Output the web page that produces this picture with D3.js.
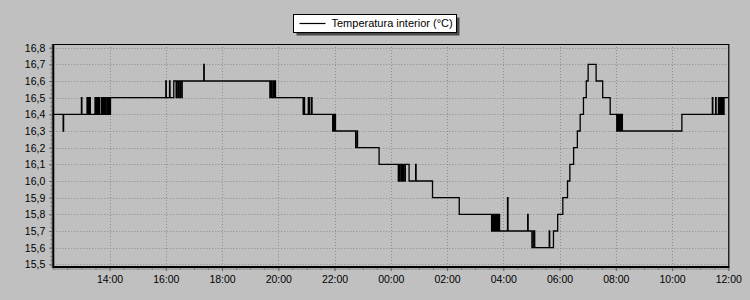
<!DOCTYPE html>
<html>
<head>
<meta charset="utf-8">
<script src="https://cdn.jsdelivr.net/npm/d3@7"></script>
<style>
  body { margin: 0; background: #c0c0c0; }
  svg { display: block; font-family: Arial, "Liberation Sans", sans-serif; }
</style>
</head>
<body>
<div id="chart"></div>
<script>
// minutes after 12:00 of the first day, temperature from that moment on
const minutes = [
  0, 21, 22,
  60, 61, 72, 73, 75, 76, 78, 79, 89, 90, 92, 93, 95, 96, 98, 99,
  103, 104, 106, 107, 109, 110, 112, 113, 116, 117, 119, 120, 122,
  240, 241, 248, 249, 257, 262, 263, 266, 267, 270, 271, 274, 275,
  321, 322,
  462, 464, 465, 466, 467, 470, 471, 473, 474,
  533, 535, 536, 544, 545, 546, 547, 551, 552,
  596, 597, 598, 599, 600, 601, 602,
  645, 648, 649,
  695, 736, 737, 739, 740, 743, 744, 746, 747, 750, 751, 759, 773, 774,
  809, 866,
  935, 937, 938, 940, 941, 943, 944, 946, 948, 950, 952,
  969, 970, 1012, 1013,
  1021, 1024, 1027, 1058, 1059, 1067,
  1076, 1087, 1097, 1102, 1110, 1118, 1124, 1131, 1137, 1141,
  1158, 1172, 1188,
  1202, 1204, 1205, 1207, 1208, 1210, 1211, 1213, 1214,
  1341, 1406, 1407, 1413, 1414, 1419, 1420,
  1422, 1424, 1425, 1427, 1428, 1430, 1431,
  1440
];
const temps = [
  16.4, 16.3, 16.4,
  16.5, 16.4, 16.5, 16.4, 16.5, 16.4, 16.5, 16.4, 16.5, 16.4, 16.5, 16.4, 16.5, 16.4, 16.5, 16.4,
  16.5, 16.4, 16.5, 16.4, 16.5, 16.4, 16.5, 16.4, 16.5, 16.4, 16.5, 16.4, 16.5,
  16.6, 16.5, 16.6, 16.5, 16.6, 16.5, 16.6, 16.5, 16.6, 16.5, 16.6, 16.5, 16.6,
  16.7, 16.6,
  16.5, 16.6, 16.5, 16.6, 16.5, 16.6, 16.5, 16.6, 16.5,
  16.4, 16.5, 16.4, 16.5, 16.4, 16.5, 16.4, 16.5, 16.4,
  16.3, 16.4, 16.3, 16.4, 16.3, 16.4, 16.3,
  16.2, 16.3, 16.2,
  16.1, 16.0, 16.1, 16.0, 16.1, 16.0, 16.1, 16.0, 16.1, 16.0, 16.1, 16.0, 16.1, 16.0,
  15.9, 15.8,
  15.7, 15.8, 15.7, 15.8, 15.7, 15.8, 15.7, 15.8, 15.7, 15.8, 15.7,
  15.9, 15.7, 15.8, 15.7,
  15.6, 15.7, 15.6, 15.7, 15.6, 15.7,
  15.8, 15.9, 16.0, 16.1, 16.2, 16.3, 16.4, 16.5, 16.6, 16.7,
  16.6, 16.5, 16.4,
  16.3, 16.4, 16.3, 16.4, 16.3, 16.4, 16.3, 16.4, 16.3,
  16.4, 16.5, 16.4, 16.5, 16.4, 16.5, 16.4,
  16.5, 16.4, 16.5, 16.4, 16.5, 16.4, 16.5,
  16.5
];
const yTicks = [15.5, 15.6, 15.7, 15.8, 15.9, 16.0, 16.1, 16.2, 16.3, 16.4, 16.5, 16.6, 16.7, 16.8];
const seriesName = "Temperatura interior (°C)";

const width = 750, height = 300;
const plot = {left: 53.3, right: 728.3, top: 44, bottom: 267};
const start = new Date(2020, 0, 1, 12, 0);
const end = d3.timeHour.offset(start, 24);

const data = minutes.map((m, i) => ({t: d3.timeMinute.offset(start, m), v: temps[i]}));

const svg = d3.select("#chart").append("svg")
  .attr("width", width)
  .attr("height", height);

const x = d3.scaleTime().domain([start, end]).range([plot.left, plot.right]);
const y = d3.scaleLinear().domain([15.5, 16.8]).range([264.3, 47.7]);

const locale = d3.formatLocale({decimal: ",", thousands: ".", grouping: [3], currency: ["", ""]});
const fmtY = locale.format(".1f");
const fmtX = d3.timeFormat("%H:%M");

const xMajor = d3.timeHour.every(2).range(d3.timeHour.offset(start, 2), d3.timeMinute.offset(end, 1));
const xMinor = d3.timeMinute.every(30).range(start, d3.timeMinute.offset(end, 1));
const yMinor = d3.range(0, 53).map(i => 15.5 + i * 0.025);

// grid
svg.append("g")
  .selectAll("line")
  .data(yTicks)
  .join("line")
    .attr("x1", plot.left).attr("x2", plot.right)
    .attr("y1", d => Math.round(y(d)) + 0.5).attr("y2", d => Math.round(y(d)) + 0.5)
    .attr("stroke", "#8c8c8c")
    .attr("stroke-dasharray", "1,2");

svg.append("g")
  .selectAll("line")
  .data(xMajor)
  .join("line")
    .attr("x1", d => Math.round(x(d)) + 0.5).attr("x2", d => Math.round(x(d)) + 0.5)
    .attr("y1", plot.top).attr("y2", plot.bottom)
    .attr("stroke", "#8c8c8c")
    .attr("stroke-dasharray", "1,2");

// frame top / right
svg.append("path")
  .attr("d", `M${plot.left},${plot.top + 0.5}H${plot.right + 0.5}V${plot.bottom}`)
  .attr("fill", "none")
  .attr("stroke", "#000")
  .attr("stroke-width", 1.2);

// series
const line = d3.line()
  .x(d => x(d.t))
  .y(d => y(d.v))
  .curve(d3.curveStepAfter);

svg.append("path")
  .datum(data)
  .attr("fill", "none")
  .attr("stroke", "#000")
  .attr("stroke-width", 1.3)
  .attr("d", line);

// y axis
const yAxisG = svg.append("g").attr("transform", `translate(${plot.left},0)`);
yAxisG.call(d3.axisLeft(y).tickValues(yMinor).tickSize(3).tickFormat(""))
  .call(g => g.select(".domain").remove())
  .call(g => g.selectAll(".tick line").attr("stroke", "#7a7a7a"));
const yLab = svg.append("g").attr("transform", `translate(${plot.left},0)`);
yLab.call(d3.axisLeft(y).tickValues(yTicks).tickSize(4).tickPadding(4).tickFormat(fmtY))
  .call(g => g.select(".domain").remove())
  .call(g => g.selectAll(".tick line").attr("stroke", "#555"))
  .call(g => g.selectAll("text").attr("font-size", 10.5).attr("fill", "#000").attr("font-family", "Arial, 'Liberation Sans', sans-serif"));

// x axis
const xAxisG = svg.append("g").attr("transform", `translate(0,${plot.bottom})`);
xAxisG.call(d3.axisBottom(x).tickValues(xMinor).tickSize(3).tickFormat(""))
  .call(g => g.select(".domain").remove())
  .call(g => g.selectAll(".tick line").attr("stroke", "#7a7a7a"));
const xLab = svg.append("g").attr("transform", `translate(0,${plot.bottom})`);
xLab.call(d3.axisBottom(x).tickValues(xMajor).tickSize(4).tickPadding(5).tickFormat(fmtX))
  .call(g => g.select(".domain").remove())
  .call(g => g.selectAll(".tick line").attr("stroke", "#555"))
  .call(g => g.selectAll("text").attr("font-size", 10.5).attr("fill", "#000").attr("font-family", "Arial, 'Liberation Sans', sans-serif"));

// thick axis lines with their shading
svg.append("line")
  .attr("x1", plot.left - 1).attr("x2", plot.right + 1)
  .attr("y1", plot.bottom + 2).attr("y2", plot.bottom + 2)
  .attr("stroke", "#8a8a8a").attr("stroke-width", 1);
svg.append("line")
  .attr("x1", plot.left - 1.5).attr("x2", plot.left - 1.5)
  .attr("y1", plot.top).attr("y2", plot.bottom + 1)
  .attr("stroke", "#8a8a8a").attr("stroke-width", 1);
svg.append("path")
  .attr("d", `M${plot.left},${plot.top}V${plot.bottom}H${plot.right + 1}`)
  .attr("fill", "none")
  .attr("stroke", "#000")
  .attr("stroke-width", 2);

// legend
const lg = svg.append("g").attr("transform", "translate(293.5,14.5)");
lg.append("rect")
  .attr("x", 3).attr("y", 3).attr("width", 163).attr("height", 18)
  .attr("fill", "#4a4a4a");
lg.append("rect")
  .attr("width", 163).attr("height", 18)
  .attr("fill", "#fff")
  .attr("stroke", "#000");
lg.append("line")
  .attr("x1", 6).attr("x2", 32).attr("y1", 9).attr("y2", 9)
  .attr("stroke", "#000").attr("stroke-width", 1.2);
lg.append("text")
  .attr("x", 38).attr("y", 9).attr("dy", "0.35em")
  .attr("font-size", 11)
  .text(seriesName);
</script>
</body>
</html>
